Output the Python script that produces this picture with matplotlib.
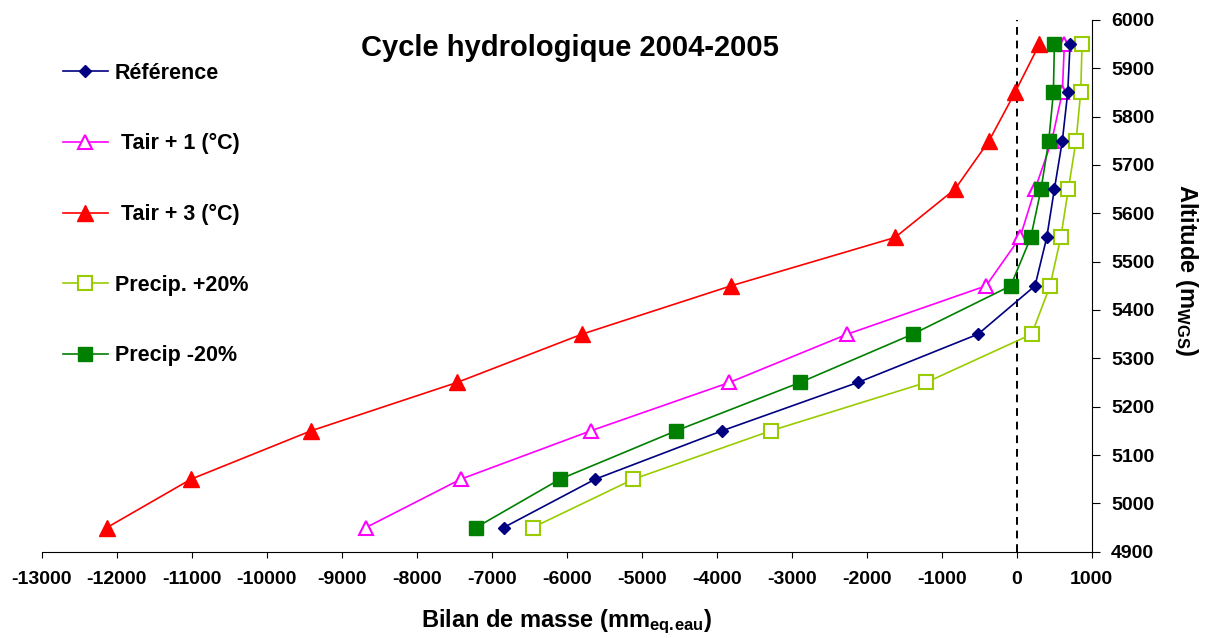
import matplotlib
matplotlib.use("Agg")
import matplotlib.pyplot as plt

plt.rcParams['font.family'] = ['Liberation Sans', 'DejaVu Sans']
plt.rcParams['font.weight'] = 'bold'
plt.rcParams['axes.unicode_minus'] = False
plt.rcParams['mathtext.fontset'] = 'custom'
plt.rcParams['mathtext.rm'] = 'Liberation Sans:bold'
plt.rcParams['mathtext.bf'] = 'Liberation Sans:bold'
plt.rcParams['mathtext.it'] = 'Liberation Sans:bold'

altitudes = [4950, 5050, 5150, 5250, 5350, 5450, 5550, 5650, 5750, 5850, 5950]
reference = [-6840, -5620, -3930, -2120, -516, 244, 400, 502, 608, 680, 711]
tair_p1 = [-8676, -7413, -5680, -3832, -2259, -409, 44, 244, 467, 608, 635]
tair_p3 = [-12129, -11009, -9409, -7463, -5796, -3809, -1623, -823, -369, -23, 302]
precip_p20 = [-6453, -5111, -3280, -1209, 200, 444, 587, 688, 791, 853, 871]
precip_m20 = [-7209, -6089, -4543, -2889, -1387, -80, 187, 324, 427, 489, 502]

labels = ['Référence', ' Tair + 1 (°C)', ' Tair + 3 (°C)', 'Precip. +20%', 'Precip -20%']
x_ticks = list(range(-13000, 1001, 1000))
y_ticks = list(range(4900, 6001, 100))

fig = plt.figure(figsize=(12.05, 6.38), dpi=100)
ax = fig.add_axes([0.0346, 0.1353, 0.8714, 0.8334])

ax.plot(reference, altitudes, color='#000080', lw=1.2, marker='D', ms=6,
        mfc='#000080', mec='#000080', label=labels[0], zorder=5)
ax.plot(tair_p1, altitudes, color='#FF00FF', lw=1.2, marker='^', ms=10,
        mfc='white', mec='#FF00FF', mew=1.5, label=labels[1], zorder=3)
ax.plot(tair_p3, altitudes, color='#FF0000', lw=1.2, marker='^', ms=11,
        mfc='#FF0000', mec='#FF0000', label=labels[2], zorder=3)
ax.plot(precip_p20, altitudes, color='#99CC00', lw=1.2, marker='s', ms=10,
        mfc='white', mec='#99CC00', mew=1.5, label=labels[3], zorder=3)
ax.plot(precip_m20, altitudes, color='#008000', lw=1.2, marker='s', ms=10,
        mfc='#008000', mec='#008000', label=labels[4], zorder=4)

ax.axvline(0, color='black', ls=(0, (4, 3)), lw=1.4, zorder=2)

ax.set_xlim(-13000, 1000)
ax.set_ylim(4900, 6000)
ax.set_xticks(x_ticks)
ax.set_yticks(y_ticks)
ax.spines['left'].set_visible(False)
ax.spines['top'].set_visible(False)
ax.yaxis.tick_right()
ax.yaxis.set_label_position('right')
ax.tick_params(axis='x', direction='out', length=4, labelsize=14, pad=10)
ax.tick_params(axis='y', direction='out', length=6, labelsize=14, pad=8)
for lbl in ax.get_xticklabels() + ax.get_yticklabels():
    lbl.set_fontweight('bold')

ax.set_xlabel(r'Bilan de masse (mm$_{\mathbf{eq.\!eau}}$)', fontsize=17,
              fontweight='bold', labelpad=14)
ax.set_ylabel(r'Altitude (m$_{\mathbf{WGS}}$)', fontsize=17,
              fontweight='bold', rotation=270, va='center', ha='center')
ax.yaxis.set_label_coords(1.0905, 0.53)

fig.text(0.473, 0.925, 'Cycle hydrologique 2004-2005', fontsize=21,
         fontweight='bold', ha='center', va='center')

leg = ax.legend(loc='upper left', bbox_to_anchor=(0.045, 0.915),
                bbox_transform=fig.transFigure, frameon=False,
                fontsize=15.5, handlelength=2.1, handletextpad=0.3,
                labelspacing=2.3, numpoints=1, borderaxespad=0)
for t in leg.get_texts():
    t.set_fontweight('bold')

fig.savefig('out.png', dpi=100)
